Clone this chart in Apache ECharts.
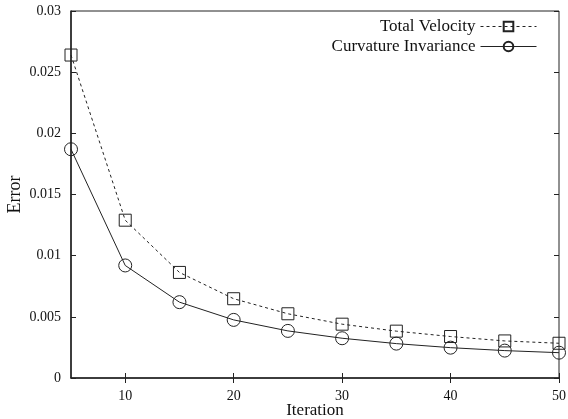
<!DOCTYPE html>
<html>
<head>
<meta charset="utf-8">
<script src="https://cdn.jsdelivr.net/npm/echarts@6/dist/echarts.min.js"></script>
<style>
  html, body { margin: 0; padding: 0; background: #fff; }
  #chart { width: 568px; height: 419px; }
</style>
</head>
<body>
<div id="chart"></div>
<script>
const iterations = [5, 10, 15, 20, 25, 30, 35, 40, 45, 50];
const totalVelocity = [0.0264, 0.0129, 0.00863, 0.00648, 0.00525, 0.0044, 0.00383, 0.00339, 0.00303, 0.00284];
const curvatureInvariance = [0.0187, 0.0092, 0.0062, 0.00475, 0.00385, 0.00325, 0.00281, 0.00248, 0.00224, 0.00207];
const xTicks = [10, 20, 30, 40, 50];

const font = 'Liberation Serif';
const ink = '#222';

const chart = echarts.init(document.getElementById('chart'));

function pairs(ys) {
    return iterations.map((x, i) => [x, ys[i]]);
}

const tickStyle = { show: true, inside: true, length: 5, lineStyle: { color: ink, width: 1 } };

chart.setOption({
    animation: false,
    grid: {
        left: 71, right: 9, top: 11, bottom: 41,
        outerBoundsMode: 'none',
        containLabel: false,
        show: true, borderColor: ink, borderWidth: 1
    },
    legend: {
        right: 26,
        top: 13,
        orient: 'vertical',
        align: 'right',
        itemWidth: 56,
        itemHeight: 12,
        itemGap: 3,
        lineStyle: { width: 1 },
        textStyle: { fontFamily: font, fontSize: 17, color: '#111', padding: [0, 0, 0, 0] },
        data: ['Total Velocity', 'Curvature Invariance']
    },
    xAxis: [
        {
            type: 'value', min: 5, max: 50,
            name: 'Iteration', nameLocation: 'middle', nameGap: 24,
            nameMoveOverlap: false,
            nameTextStyle: { fontFamily: font, fontSize: 17, color: '#111' },
            axisLine: { show: true, lineStyle: { color: ink, width: 1.5 } },
            axisTick: Object.assign({ customValues: xTicks }, tickStyle),
            axisLabel: { customValues: xTicks, fontFamily: font, fontSize: 14, color: '#111', margin: 11 },
            splitLine: { show: false }
        },
        {
            type: 'value', min: 5, max: 50, position: 'top',
            axisLine: { show: false },
            axisTick: Object.assign({ customValues: xTicks }, tickStyle),
            axisLabel: { show: false },
            splitLine: { show: false }
        }
    ],
    yAxis: [
        {
            type: 'value', min: 0, max: 0.03, interval: 0.005,
            name: 'Error', nameLocation: 'middle', nameGap: 47,
            nameMoveOverlap: false,
            nameTextStyle: { fontFamily: font, fontSize: 18, color: '#111' },
            axisLine: { show: true, lineStyle: { color: ink, width: 1.5 } },
            axisTick: tickStyle,
            axisLabel: { fontFamily: font, fontSize: 14, color: '#111', margin: 10 },
            splitLine: { show: false }
        },
        {
            type: 'value', min: 0, max: 0.03, interval: 0.005, position: 'right',
            axisLine: { show: false },
            axisTick: tickStyle,
            axisLabel: { show: false },
            splitLine: { show: false }
        }
    ],
    series: [
        {
            name: 'Total Velocity',
            type: 'line',
            data: pairs(totalVelocity),
            symbol: 'rect',
            symbolSize: 12,
            lineStyle: { color: ink, width: 1, type: [3, 3] },
            itemStyle: { color: 'transparent', borderColor: ink, borderWidth: 1 }
        },
        {
            name: 'Curvature Invariance',
            type: 'line',
            data: pairs(curvatureInvariance),
            symbol: 'circle',
            symbolSize: 13,
            lineStyle: { color: ink, width: 1 },
            itemStyle: { color: 'transparent', borderColor: ink, borderWidth: 1 }
        }
    ]
});
</script>
</body>
</html>
